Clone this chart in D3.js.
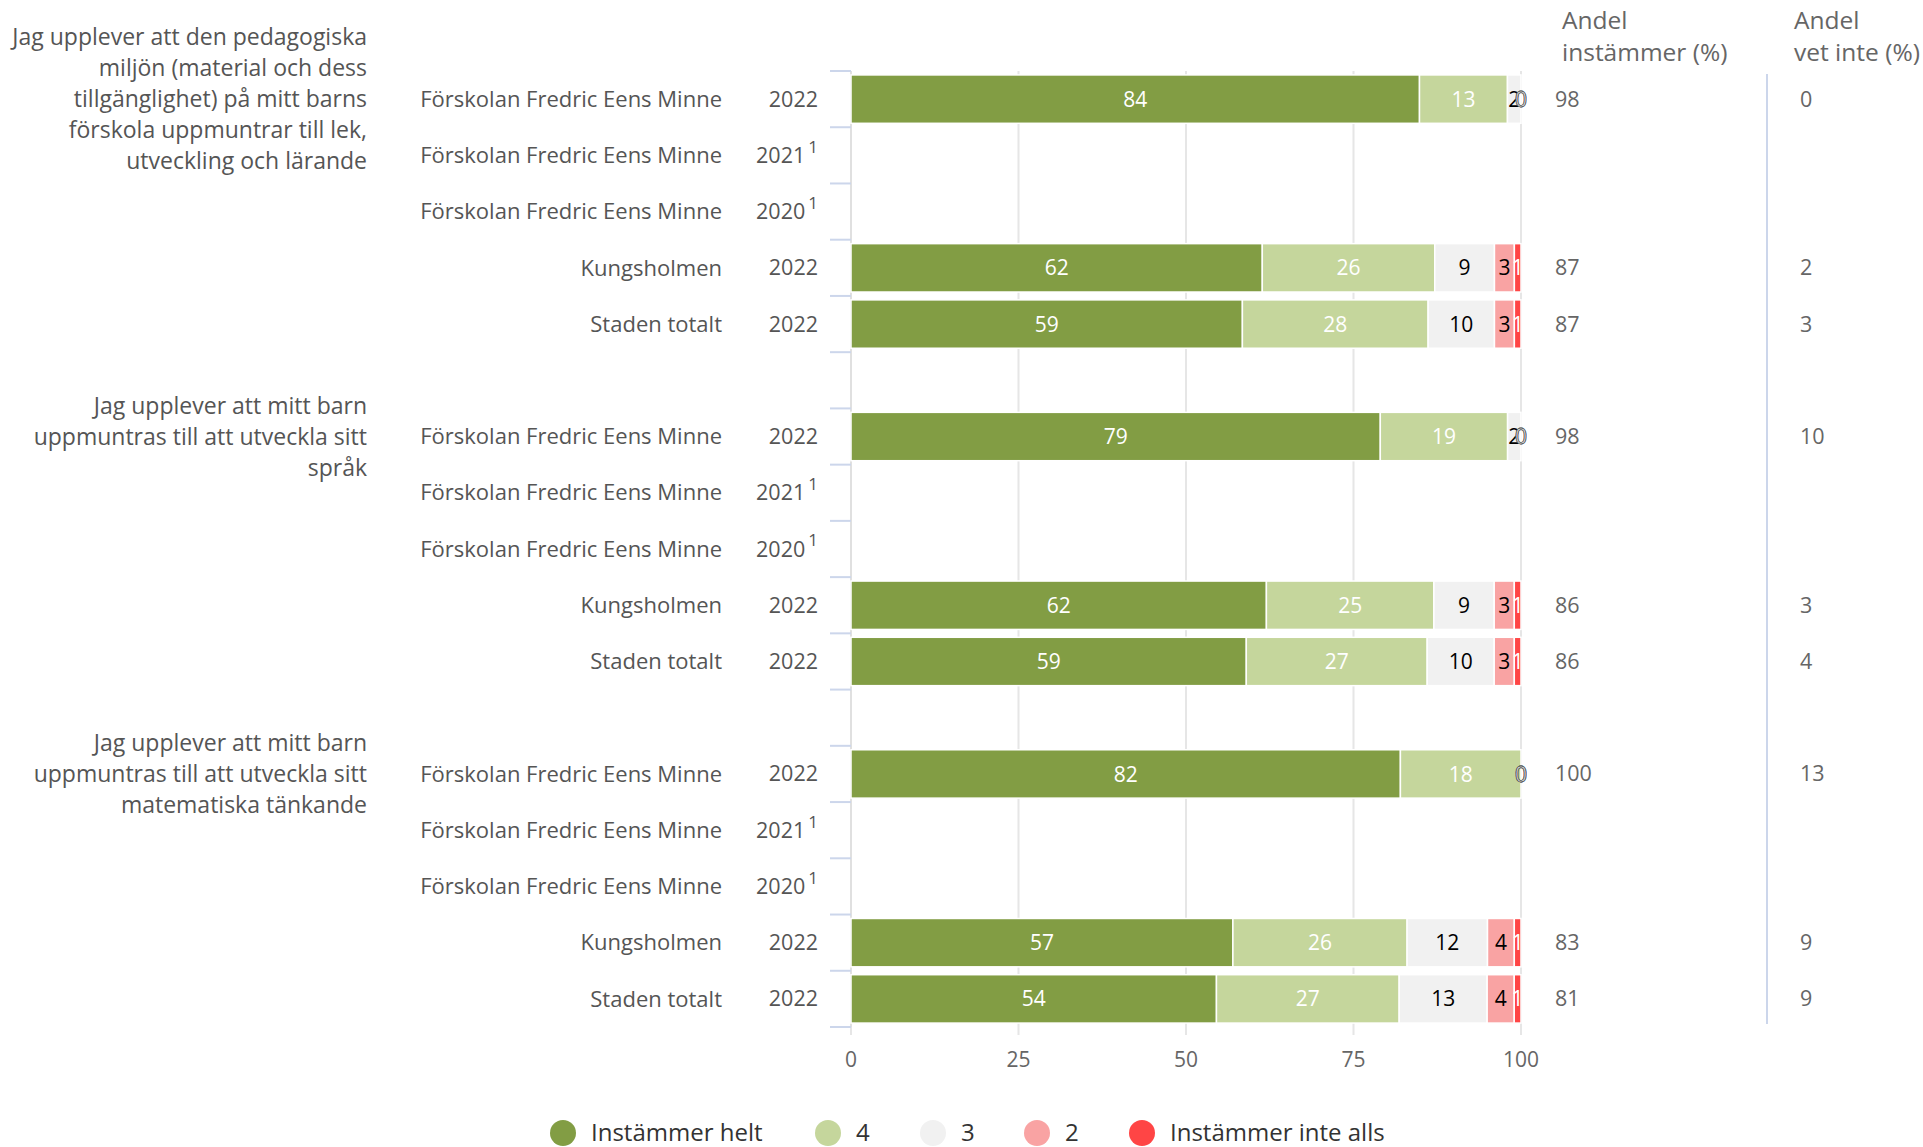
<!DOCTYPE html>
<html>
<head>
<meta charset="utf-8">
<script src="https://cdn.jsdelivr.net/npm/d3@7"></script>
<style>
  body { margin: 0; background: #fff; }
  svg text { font-family: "Open Sans", Lato, sans-serif; }
</style>
</head>
<body>
<div id="chart"></div>
<script>
"use strict";

// question texts, already broken into lines
var groupLabels = [
  ["Jag upplever att den pedagogiska", "miljön (material och dess", "tillgänglighet) på mitt barns", "förskola uppmuntrar till lek,", "utveckling och lärande"],
  ["Jag upplever att mitt barn", "uppmuntras till att utveckla sitt", "språk"],
  ["Jag upplever att mitt barn", "uppmuntras till att utveckla sitt", "matematiska tänkande"]
];

// rows inside each group
var rowNames = ["Förskolan Fredric Eens Minne", "Förskolan Fredric Eens Minne", "Förskolan Fredric Eens Minne", "Kungsholmen", "Staden totalt"];
var rowYears = ["2022", "2021", "2020", "2022", "2022"];
var rowNotes = ["", "1", "1", "", ""];

// series
var seriesNames = ["Instämmer helt", "4", "3", "2", "Instämmer inte alls"];
var seriesColors = ["#829d44", "#c5d69c", "#f1f1f1", "#f9a3a3", "#ff4545"];
var labelColors = ["#ffffff", "#ffffff", "#000000", "#000000", "#ffffff"];

// values, 15 rows (3 groups x 5 rows), null = no data
var instammerHelt = [84, null, null, 62, 59, 79, null, null, 62, 59, 82, null, null, 57, 54];
var svar4 = [13, null, null, 26, 28, 19, null, null, 25, 27, 18, null, null, 26, 27];
var svar3 = [2, null, null, 9, 10, 2, null, null, 9, 10, 0, null, null, 12, 13];
var svar2 = [0, null, null, 3, 3, 0, null, null, 3, 3, 0, null, null, 4, 4];
var instammerInte = [0, null, null, 1, 1, 0, null, null, 1, 1, 0, null, null, 1, 1];

// side columns
var andelInstammer = [98, null, null, 87, 87, 98, null, null, 86, 86, 100, null, null, 83, 81];
var andelVetInte = [0, null, null, 2, 3, 10, null, null, 3, 4, 13, null, null, 9, 9];

var xTicks = [0, 25, 50, 75, 100];

var width = 1923;
var height = 1147;
var plotLeft = 851;
var plotRight = 1521;
var plotTop = 71;
var plotBottom = 1027;

var seriesValues = [instammerHelt, svar4, svar3, svar2, instammerInte];

// build row list with a blank slot between groups
var rows = [];
var slots = [];
groupLabels.forEach(function (g, gi) {
  if (gi > 0) {
    slots.push("gap" + gi);
  }
  rowNames.forEach(function (name, ri) {
    var idx = gi * rowNames.length + ri;
    var id = "r" + idx;
    slots.push(id);
    rows.push({
      id: id,
      group: gi,
      first: ri === 0,
      name: name,
      year: rowYears[ri],
      note: rowNotes[ri],
      values: seriesValues.map(function (s) { return s[idx]; }),
      andel: andelInstammer[idx],
      vetInte: andelVetInte[idx]
    });
  });
});

var svg = d3.select("#chart").append("svg").attr("width", width).attr("height", height);

var x = d3.scaleLinear().domain([0, 100]).range([plotLeft, plotRight]);
var y = d3.scaleBand().domain(slots).range([plotTop, plotBottom]).paddingInner(0.14).paddingOuter(0.07);
var step = y.step();

// vertical grid lines
svg.append("g").selectAll("line").data(xTicks).enter().append("line")
  .attr("x1", function (d) { return x(d); }).attr("x2", function (d) { return x(d); })
  .attr("y1", plotTop).attr("y2", plotBottom + 8)
  .style("stroke", "#e6e6e6").style("stroke-width", 2);

// category axis line and ticks
svg.append("line").attr("x1", plotLeft).attr("x2", plotLeft).attr("y1", plotTop).attr("y2", plotBottom)
  .style("stroke", "#e0e0e0").style("stroke-width", 2);
svg.append("g").selectAll("line").data(d3.range(slots.length + 1)).enter().append("line")
  .attr("x1", plotLeft - 21).attr("x2", plotLeft)
  .attr("y1", function (d) { return plotTop + d * step; })
  .attr("y2", function (d) { return plotTop + d * step; })
  .style("stroke", "#ccd6eb").style("stroke-width", 2);

// x axis labels
svg.append("g").selectAll("text").data(xTicks).enter().append("text")
  .attr("x", function (d) { return x(d); }).attr("y", 1060)
  .attr("text-anchor", "middle").attr("dy", "0.35em")
  .style("font-size", "21px").style("fill", "#666")
  .text(function (d) { return d; });

// stacked bars
var barRows = svg.append("g").selectAll("g").data(rows.filter(function (r) { return r.values[0] !== null; })).enter().append("g");

barRows.each(function (r) {
  var total = d3.sum(r.values);
  var acc = 0;
  var segs = r.values.map(function (v, i) {
    var s = { v: v, i: i, x0: acc / total * 100, x1: (acc + v) / total * 100 };
    acc += v;
    return s;
  });
  var g = d3.select(this);
  g.selectAll("rect").data(segs.filter(function (s) { return s.v > 0; })).enter().append("rect")
    .attr("x", function (s) { return x(s.x0); })
    .attr("width", function (s) { return x(s.x1) - x(s.x0); })
    .attr("y", y(r.id)).attr("height", y.bandwidth())
    .style("fill", function (s) { return seriesColors[s.i]; })
    .style("stroke", "#fff").style("stroke-width", 1.5);
  g.selectAll("text").data(segs).enter().append("text")
    .attr("x", function (s) { return x((s.x0 + s.x1) / 2); })
    .attr("y", y(r.id) + y.bandwidth() / 2)
    .attr("text-anchor", "middle").attr("dy", "0.36em")
    .style("font-size", "21px")
    .style("fill", function (s) { return s.v === 0 ? "#fff" : labelColors[s.i]; })
    .style("stroke", function (s) { return s.v === 0 ? "#555" : "none"; })
    .style("stroke-width", 0.8)
    .text(function (s) { return s.v; });
});

// row labels
var rowLabels = svg.append("g").selectAll("g").data(rows).enter().append("g")
  .attr("transform", function (r) { return "translate(0," + (y(r.id) + y.bandwidth() / 2) + ")"; });
rowLabels.append("text").attr("x", 722).attr("dy", "0.35em").attr("text-anchor", "end")
  .style("font-size", "22px").style("fill", "#555")
  .text(function (r) { return r.name; });
var yearText = rowLabels.append("text").attr("x", 818).attr("dy", "0.35em").attr("text-anchor", "end")
  .style("font-size", "21.5px").style("fill", "#555");
yearText.append("tspan").text(function (r) { return r.year; });
yearText.append("tspan").attr("dx", 3).attr("dy", "-0.6em").style("font-size", "17px")
  .text(function (r) { return r.note; });

// side columns
rowLabels.append("text").attr("x", 1555).attr("dy", "0.35em")
  .style("font-size", "21.5px").style("fill", "#666")
  .text(function (r) { return r.andel === null ? "" : r.andel; });
rowLabels.append("text").attr("x", 1800).attr("dy", "0.35em")
  .style("font-size", "21.5px").style("fill", "#666")
  .text(function (r) { return r.vetInte === null ? "" : r.vetInte; });

// column headers
var headers = [["Andel", "instämmer (%)"], ["Andel", "vet inte (%)"]];
var headerX = [1562, 1794];
headers.forEach(function (h, i) {
  svg.append("text").attr("x", headerX[i]).attr("y", 20).attr("dy", "0.35em")
    .style("font-size", "24.5px").style("fill", "#666").text(h[0]);
  svg.append("text").attr("x", headerX[i]).attr("y", 52).attr("dy", "0.35em")
    .style("font-size", "24.5px").style("fill", "#666").text(h[1]);
});

// separator between the two side columns
svg.append("line").attr("x1", 1767).attr("x2", 1767).attr("y1", 74).attr("y2", 1024)
  .style("stroke", "#ccd6eb").style("stroke-width", 2);

// group labels, centred on first row of each group
var lineHeight = 31;
rows.filter(function (r) { return r.first; }).forEach(function (r) {
  var lines = groupLabels[r.group];
  var cy = y(r.id) + y.bandwidth() / 2;
  var top = cy - (lines.length - 1) / 2 * lineHeight;
  svg.append("g").selectAll("text").data(lines).enter().append("text")
    .attr("x", 367).attr("y", function (d, i) { return top + i * lineHeight; })
    .attr("dy", "0.35em").attr("text-anchor", "end")
    .style("font-size", "23px").style("fill", "#555")
    .text(function (d) { return d; });
});

// legend
var legendX = [563, 828, 933, 1037, 1142];
var legend = svg.append("g").selectAll("g").data(seriesNames).enter().append("g")
  .attr("transform", function (d, i) { return "translate(" + legendX[i] + ",1133)"; });
legend.append("circle").attr("r", 13).style("fill", function (d, i) { return seriesColors[i]; });
legend.append("text").attr("x", 28).attr("dy", "0.35em")
  .style("font-size", "24px").style("fill", "#333")
  .text(function (d) { return d; });
</script>
</body>
</html>
